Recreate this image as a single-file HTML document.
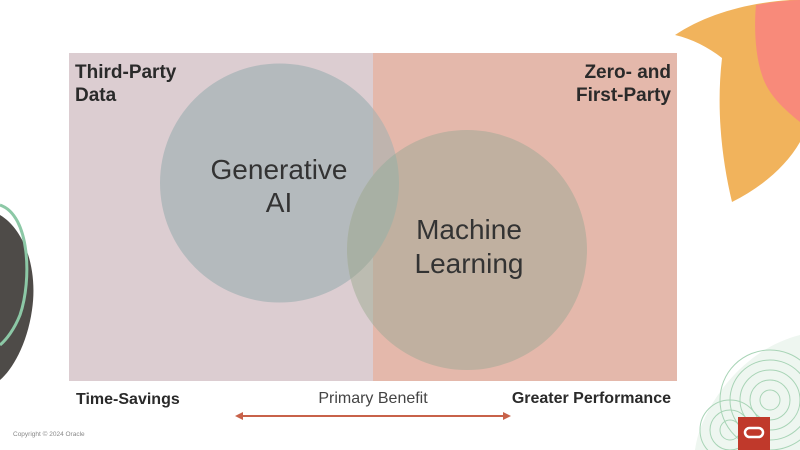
<!DOCTYPE html>
<html><head><meta charset="utf-8"><style>
html,body{margin:0;padding:0;background:#fff;}
body{width:800px;height:450px;overflow:hidden;position:relative;font-family:"Liberation Sans",sans-serif;}
</style></head><body>
<svg width="800" height="450" viewBox="0 0 800 450" style="position:absolute;left:0;top:0">
<defs>
<clipPath id="L"><rect x="0" y="0" width="373" height="450"/></clipPath>
<clipPath id="R"><rect x="373" y="0" width="427" height="450"/></clipPath>
<clipPath id="G"><circle cx="279.5" cy="183" r="119.5"/></clipPath>
</defs>
<!-- decorations -->
<path d="M675,35 C705,15 745,3 790,0 L800,0 L800,142 C785,168 760,188 732,202 C722,160 716,110 722,58 C708,47 692,39 675,35 Z" fill="#f1b35c"/>
<path d="M756,5 C772,2 790,0 800,0 L800,122 C785,110 768,95 762,75 C755,55 754,25 756,5 Z" fill="#f88a7a"/>
<path d="M0,215 C25,230 38,270 32,310 C27,345 12,370 0,380 Z" fill="#4e4b48"/>
<path d="M0,205 C30,215 32,280 20,315 C14,330 6,340 0,345" fill="none" stroke="#8cc8a6" stroke-width="3"/>
<path d="M800,335 C740,350 700,410 695,450 L800,450 Z" fill="#eef6f0"/>
<g fill="none" stroke="#a8d4b6" stroke-width="1">
<circle cx="770" cy="400" r="10"/><circle cx="770" cy="400" r="20"/><circle cx="770" cy="400" r="30"/><circle cx="770" cy="400" r="40"/><circle cx="770" cy="400" r="50"/>
<circle cx="730" cy="430" r="10"/><circle cx="730" cy="430" r="20"/><circle cx="730" cy="430" r="30"/>
</g>
<!-- background rectangles -->
<rect x="69" y="53" width="304" height="328" fill="#dccdd1"/>
<rect x="373" y="53" width="304" height="328" fill="#e4b8ab"/>
<!-- circles -->
<circle cx="279.5" cy="183" r="119.5" fill="#b4babd" clip-path="url(#L)"/>
<circle cx="279.5" cy="183" r="119.5" fill="#bfb4ae" clip-path="url(#R)"/>
<circle cx="467" cy="250" r="120" fill="#bcbcb1" clip-path="url(#L)"/>
<circle cx="467" cy="250" r="120" fill="#c0b0a0" clip-path="url(#R)"/>
<g clip-path="url(#G)"><circle cx="467" cy="250" r="120" fill="#a8b0a4"/></g>
<!-- arrow -->
<line x1="240" y1="416" x2="506" y2="416" stroke="#c8624a" stroke-width="2"/>
<path d="M235,416 L243,412 L243,420 Z" fill="#c8624a"/>
<path d="M511,416 L503,412 L503,420 Z" fill="#c8624a"/>
<!-- oracle logo -->
<rect x="738" y="417" width="32" height="33" fill="#c0392b"/>
<rect x="745" y="428" width="18" height="9" rx="4.5" fill="none" stroke="#fff" stroke-width="2.5"/>
<!-- text -->
<g font-family="'Liberation Sans',sans-serif" fill="#2a2a2a">
<text x="75" y="78" font-size="19" font-weight="bold">Third-Party</text>
<text x="75" y="101" font-size="19" font-weight="bold">Data</text>
<text x="671" y="78" font-size="19" font-weight="bold" text-anchor="end">Zero- and</text>
<text x="671" y="101" font-size="19" font-weight="bold" text-anchor="end">First-Party</text>
<text x="279" y="179" font-size="28" text-anchor="middle" fill="#333">Generative</text>
<text x="279" y="212" font-size="28" text-anchor="middle" fill="#333">AI</text>
<text x="469" y="239" font-size="28" text-anchor="middle" fill="#333">Machine</text>
<text x="469" y="273" font-size="28" text-anchor="middle" fill="#333">Learning</text>
<text x="76" y="404" font-size="16" font-weight="bold">Time-Savings</text>
<text x="373" y="403" font-size="16" text-anchor="middle" fill="#444">Primary Benefit</text>
<text x="671" y="403" font-size="16" font-weight="bold" text-anchor="end">Greater Performance</text>
<text x="13" y="436" font-size="6.5" fill="#888">Copyright © 2024 Oracle</text>
</g>
</svg>
</body></html>
